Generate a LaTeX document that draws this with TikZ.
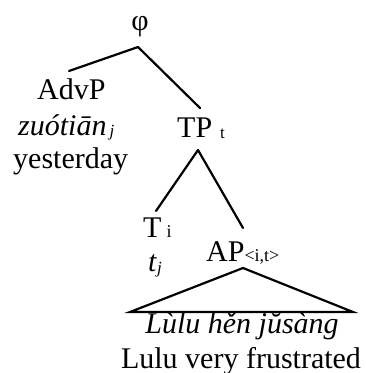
\documentclass[tikz,border=0pt]{standalone}
\usepackage{fontspec}
\setmainfont{Liberation Serif}
\newcommand{\subsz}[1]{\fontsize{#1}{#1}\selectfont}
\begin{document}
\begin{tikzpicture}[x=1pt,y=-1pt,
  lbl/.style={inner sep=0pt, font=\fontsize{30}{30}\selectfont},
  branch/.style={line width=2.2pt, line cap=round}]
\useasboundingbox (0,0) rectangle (365,373);
% labels, placed by their baselines
\node[lbl,anchor=base] (phi) at (140,30) {φ};
\node[lbl,anchor=base west] (advp) at (37,99) {AdvP};
\node[lbl,anchor=base west] (zuo) at (18,135) {\textit{zuótiān}\hspace{3pt}\raisebox{-1pt}{\subsz{17}\itshape j}};
\node[lbl,anchor=base west] (yest) at (13,168) {yesterday};
\node[lbl,anchor=base west] (tp) at (177,137) {TP\hspace{8pt}\raisebox{-1pt}{\subsz{17}t}};
\node[lbl,anchor=base west] (t) at (143,237) {T\hspace{5pt}{\subsz{18}i}};
\node[lbl,anchor=base west] (trace) at (148,271) {\textit{t}\raisebox{-2pt}{\subsz{17}\itshape j}};
\node[lbl,anchor=base west] (ap) at (206,261) {AP{\subsz{18}<i,t>}};
\node[lbl,anchor=base] (gloss1) at (242,333) {\textit{Lùlu hěn jŭsàng}};
\node[lbl,anchor=base] (gloss2) at (241,368) {Lulu very frustrated};
% attachment points of the branches
\coordinate (phi-b) at (138,47);
\coordinate (advp-t) at (69,71);
\coordinate (tp-t) at (200,108);
\coordinate (tp-b) at (198,150);
\coordinate (t-t) at (156,211);
\coordinate (ap-t) at (243,228);
\coordinate (ap-b) at (243,268);
\coordinate (roof-l) at (130,312);
\coordinate (roof-r) at (353,312);
% branches
\draw[branch] (phi-b) -- (advp-t);
\draw[branch] (phi-b) -- (tp-t);
\draw[branch] (tp-b) -- (t-t);
\draw[branch] (tp-b) -- (ap-t);
\draw[branch, line join=miter] (ap-b) -- (roof-l) -- (roof-r) -- cycle;
\end{tikzpicture}
\end{document}
